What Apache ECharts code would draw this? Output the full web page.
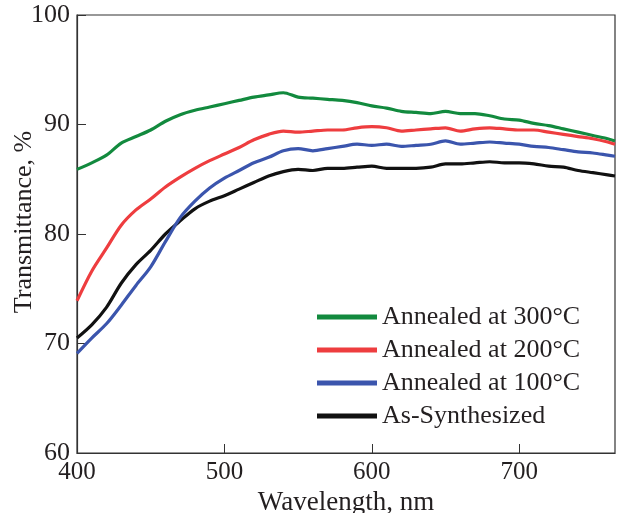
<!DOCTYPE html>
<html>
<head>
<meta charset="utf-8">
<script src="https://cdn.jsdelivr.net/npm/echarts@6/dist/echarts.min.js"></script>
<style>html,body{margin:0;padding:0;background:#fff}#c{width:619px;height:513px}</style>
</head>
<body>
<div id="c"></div>
<script>
var wavelengths = [400,410,420,430,440,450,460,470,480,490,500,510,520,530,540,550,560,570,580,590,600,610,620,630,640,650,660,670,680,690,700,710,720,730,740,750,760,765];
var annealed300 = [85.9,86.5,87.2,88.3,88.9,89.5,90.3,90.9,91.3,91.6,91.9,92.2,92.5,92.7,92.9,92.5,92.4,92.3,92.2,92.0,91.7,91.5,91.2,91.1,91.0,91.2,91.0,91.0,90.8,90.5,90.4,90.1,89.9,89.6,89.3,89.0,88.7,88.5];
var annealed200 = [73.9,76.6,78.7,80.8,82.2,83.2,84.3,85.2,86.0,86.7,87.3,87.9,88.6,89.1,89.4,89.3,89.4,89.5,89.5,89.7,89.8,89.7,89.4,89.5,89.6,89.7,89.4,89.6,89.7,89.6,89.5,89.5,89.3,89.1,88.9,88.7,88.4,88.2];
var annealed100 = [69.1,70.5,71.8,73.5,75.3,77.0,79.3,81.5,83.0,84.2,85.1,85.8,86.5,87.0,87.6,87.8,87.6,87.8,88.0,88.2,88.1,88.2,88.0,88.1,88.2,88.5,88.2,88.3,88.4,88.3,88.2,88.0,87.9,87.7,87.5,87.4,87.2,87.1];
var asSynthesized = [70.5,71.7,73.3,75.5,77.2,78.5,80.0,81.2,82.3,83.0,83.5,84.1,84.7,85.3,85.7,85.9,85.8,86.0,86.0,86.1,86.2,86.0,86.0,86.0,86.1,86.4,86.4,86.5,86.6,86.5,86.5,86.4,86.2,86.1,85.8,85.6,85.4,85.3];
var seriesNames = ['Annealed at 300°C','Annealed at 200°C','Annealed at 100°C','As-Synthesized'];
var xTicks = [400,500,600,700];
var yTicks = [60,70,80,90,100];
var xTitle = 'Wavelength, nm';
var yTitle = 'Transmittance, %';

function pairs(v){ return wavelengths.map(function(w,i){ return [w, v[i]]; }); }
var FONT = '"Liberation Serif","DejaVu Serif",serif';
var TXT = '#231f20';
var colors = {'Annealed at 300°C':'#128a3e','Annealed at 200°C':'#ee3d3f','Annealed at 100°C':'#3b55ad','As-Synthesized':'#111111'};
var dataBy = {'Annealed at 300°C':annealed300,'Annealed at 200°C':annealed200,'Annealed at 100°C':annealed100,'As-Synthesized':asSynthesized};

var chart = echarts.init(document.getElementById('c'), null, {renderer:'canvas'});
var drawOrder = ['As-Synthesized','Annealed at 100°C','Annealed at 300°C','Annealed at 200°C'];
chart.setOption({
  animation:false,
  backgroundColor:'#fff',
  grid:{left:77, right:4, top:15, bottom:60, outerBoundsMode:'none', containLabel:false,
    show:true, borderColor:'#333', borderWidth:1.2, backgroundColor:'transparent'},
  legend:{
    orient:'vertical', left:312, top:299,
    data:seriesNames, icon:'rect', itemWidth:60, itemHeight:5, itemGap:7,
    textStyle:{fontFamily:FONT, fontSize:26, color:TXT, lineHeight:26}
  },
  graphic:[{
    type:'text', x:24, y:222, rotation:Math.PI/2,
    style:{text:yTitle, fontFamily:FONT, fontSize:26, fill:TXT, align:'center', verticalAlign:'middle'}
  }],
  xAxis:{
    type:'value', min:400, max:765, interval:100,
    name:xTitle, nameLocation:'middle', nameGap:29,
    nameTextStyle:{fontFamily:FONT, fontSize:27, color:TXT},
    axisLine:{lineStyle:{color:'#333', width:1.2}},
    axisTick:{inside:true, length:9, lineStyle:{color:'#333'}},
    axisLabel:{fontFamily:FONT, fontSize:25, color:TXT, margin:7, showMaxLabel:false,
      formatter:function(v){ return xTicks.indexOf(v) >= 0 ? String(v) : ''; }},
    splitLine:{show:false}
  },
  yAxis:{
    type:'value', min:60, max:100, interval:10,
    axisLine:{lineStyle:{color:'#333', width:1.2}},
    axisTick:{inside:true, length:9, lineStyle:{color:'#333'}},
    axisLabel:{fontFamily:FONT, fontSize:26, color:TXT, margin:7,
      formatter:function(v){ return yTicks.indexOf(v) >= 0 ? String(v) : ''; }},
    splitLine:{show:false}
  },
  series: drawOrder.map(function(n){
    return {name:n, type:'line', data:pairs(dataBy[n]), showSymbol:false, symbol:'none', smooth:0.3,
      lineStyle:{color:colors[n], width:3.2}, itemStyle:{color:colors[n]}};
  })
});
</script>
</body>
</html>
